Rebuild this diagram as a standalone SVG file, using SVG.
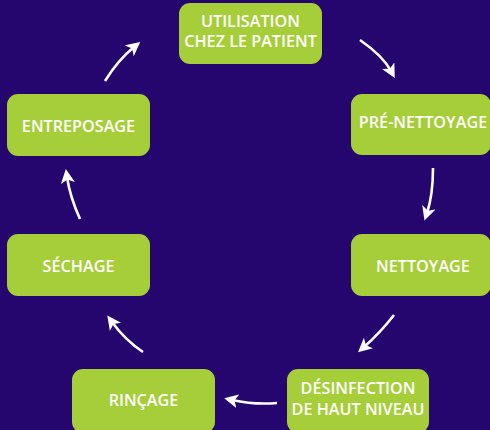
<svg xmlns="http://www.w3.org/2000/svg" width="490" height="430" viewBox="0 0 490 430">
<style>
.box{fill:#a6ce39;}
.lbl{fill:#ffffff;font-family:"Open Sans","Noto Sans","Liberation Sans",sans-serif;font-weight:600;font-size:16.2px;text-anchor:middle;}
.arr{fill:none;stroke:#ffffff;stroke-width:2.6;marker-end:url(#ah);}
</style>
<defs>
<marker id="ah" markerUnits="userSpaceOnUse" markerWidth="16" markerHeight="14" viewBox="0 0 16 14" refX="6" refY="7" orient="auto">
<path d="M0,0 L14,7 L0,14 L3.5,7 z" fill="#ffffff"/>
</marker>
</defs>
<rect width="490" height="430" fill="#25066e"/>
<g id="utilisation">
<rect class="box" x="179" y="3" width="143" height="61" rx="11"/>
<text class="lbl" x="250.5" y="27">UTILISATION</text>
<text class="lbl" x="250.5" y="47">CHEZ LE PATIENT</text>
</g>
<g id="pre-nettoyage">
<rect class="box" x="351" y="94" width="140" height="61" rx="11"/>
<text class="lbl" x="423" y="128">PRÉ-NETTOYAGE</text>
</g>
<g id="nettoyage">
<rect class="box" x="351" y="234" width="140" height="62" rx="11"/>
<text class="lbl" x="423" y="272">NETTOYAGE</text>
</g>
<g id="desinfection">
<rect class="box" x="287" y="369" width="142" height="64" rx="11"/>
<text class="lbl" x="358" y="394">DÉSINFECTION</text>
<text class="lbl" x="358" y="415">DE HAUT NIVEAU</text>
</g>
<g id="rincage">
<rect class="box" x="72" y="369" width="143" height="64" rx="11"/>
<text class="lbl" x="143.5" y="406">RINÇAGE</text>
</g>
<g id="sechage">
<rect class="box" x="7" y="234" width="143" height="62" rx="11"/>
<text class="lbl" x="78.5" y="272">SÉCHAGE</text>
</g>
<g id="entreposage">
<rect class="box" x="7" y="94" width="143" height="62" rx="11"/>
<text class="lbl" x="78.5" y="132">ENTREPOSAGE</text>
</g>
<g id="connectors">
<path class="arr" d="M360,40 Q383,56 391,71"/>
<path class="arr" d="M433,168 Q433,195 427,213"/>
<path class="arr" d="M394,315 Q380,333 364,347"/>
<path class="arr" d="M277,403 Q255,405 232,400"/>
<path class="arr" d="M143,352 Q125,340 112,322"/>
<path class="arr" d="M80,219 Q70,197 67,177"/>
<path class="arr" d="M105,81 Q118,60 134,47"/>
</g>
</svg>
